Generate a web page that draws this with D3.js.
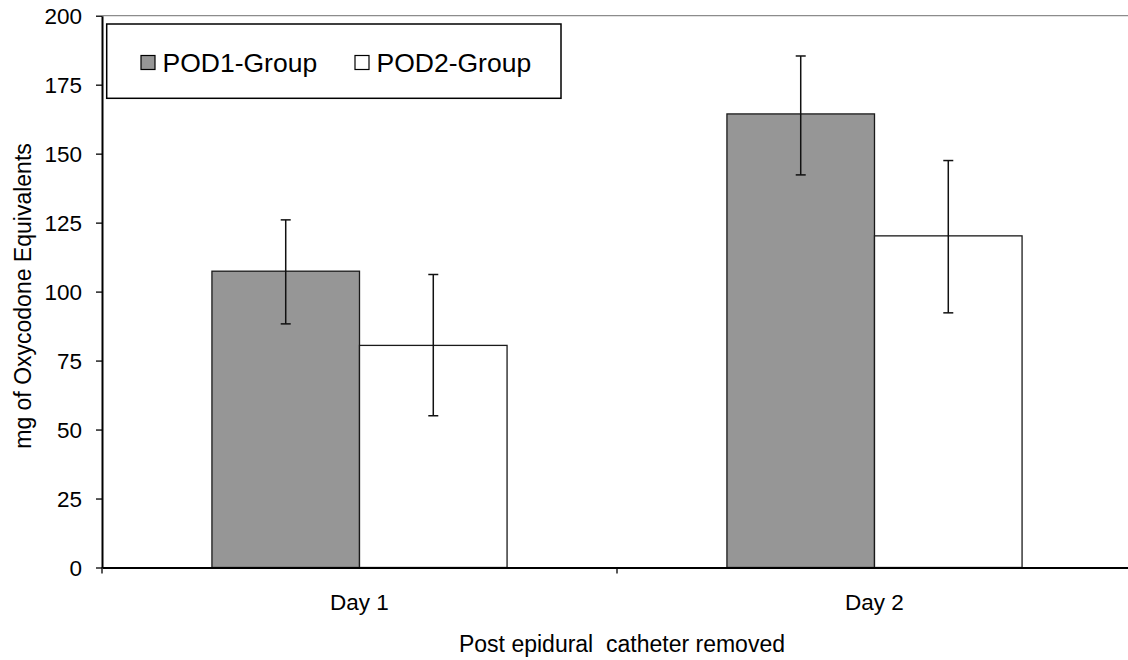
<!DOCTYPE html>
<html>
<head>
<meta charset="utf-8">
<script src="https://cdn.jsdelivr.net/npm/d3@7"></script>
<style>
  body { margin: 0; background: #fff; }
  svg text { font-family: "Liberation Sans", Arial, sans-serif; fill: #000; }
</style>
</head>
<body>
<svg width="1128" height="660"></svg>
<script>
var days = ["Day 1", "Day 2"];
var groups = ["POD1-Group", "POD2-Group"];
var groupFill = ["#969696", "#ffffff"];
var pod1Mean = [107.4, 164.4];
var pod1Low = [88.3, 142.3];
var pod1High = [126.0, 185.4];
var pod2Mean = [80.5, 120.2];
var pod2Low = [55.0, 92.3];
var pod2High = [106.2, 147.5];
var yTicks = [0, 25, 50, 75, 100, 125, 150, 175, 200];

var svg = d3.select("svg"),
    plotLeft = 102, plotRight = 1132, plotTop = 15.7, plotBottom = 567.5;

var rows = [];
days.forEach(function (d, i) {
    rows.push({ day: d, group: groups[0], mean: pod1Mean[i], low: pod1Low[i], high: pod1High[i] });
    rows.push({ day: d, group: groups[1], mean: pod2Mean[i], low: pod2Low[i], high: pod2High[i] });
});

var x0 = d3.scaleBand().domain(days).range([plotLeft, plotRight]);
var x1 = d3.scaleBand().domain(groups).range([0, x0.bandwidth()]).paddingOuter(0.745);
var y = d3.scaleLinear().domain([0, 200]).range([plotBottom, plotTop]);
var color = d3.scaleOrdinal().domain(groups).range(groupFill);

// top border of plot area
svg.append("line")
    .attr("x1", plotLeft).attr("x2", 1128)
    .attr("y1", y(200)).attr("y2", y(200))
    .attr("stroke", "#8c8c8c").attr("stroke-width", 1.2);

// bars
svg.append("g").selectAll("rect")
    .data(rows)
  .enter().append("rect")
    .attr("x", function (d) { return x0(d.day) + x1(d.group); })
    .attr("y", function (d) { return y(d.mean); })
    .attr("width", x1.bandwidth())
    .attr("height", function (d) { return y(0) - y(d.mean); })
    .attr("fill", function (d) { return color(d.group); })
    .attr("stroke", "#1a1a1a")
    .attr("stroke-width", 1.3);

// error bars
var err = svg.append("g").selectAll("g")
    .data(rows)
  .enter().append("g")
    .attr("stroke", "#111").attr("stroke-width", 1.5);

function cx(d) { return x0(d.day) + x1(d.group) + x1.bandwidth() / 2; }

err.append("line")
    .attr("x1", cx).attr("x2", cx)
    .attr("y1", function (d) { return y(d.low); })
    .attr("y2", function (d) { return y(d.high); });
err.append("line")
    .attr("x1", function (d) { return cx(d) - 5; })
    .attr("x2", function (d) { return cx(d) + 5; })
    .attr("y1", function (d) { return y(d.high); })
    .attr("y2", function (d) { return y(d.high); });
err.append("line")
    .attr("x1", function (d) { return cx(d) - 5; })
    .attr("x2", function (d) { return cx(d) + 5; })
    .attr("y1", function (d) { return y(d.low); })
    .attr("y2", function (d) { return y(d.low); });

// y axis
var yAxis = svg.append("g")
    .attr("transform", "translate(" + plotLeft + ",0)")
    .call(d3.axisLeft(y).tickValues(yTicks).tickSize(6).tickPadding(14).tickSizeOuter(0));
yAxis.select(".domain").attr("stroke", "#000").attr("stroke-width", 2);
yAxis.selectAll(".tick line").attr("stroke", "#000").attr("stroke-width", 1.3);
yAxis.selectAll(".tick text").style("font-size", "22.5px").attr("dy", "0.36em");

// x axis
var xAxis = svg.append("g")
    .attr("transform", "translate(0," + plotBottom + ")")
    .call(d3.axisBottom(x0).tickSize(0).tickPadding(27).tickSizeOuter(0));
xAxis.select(".domain").attr("stroke", "#000").attr("stroke-width", 2);
xAxis.selectAll(".tick text").style("font-size", "22.5px").attr("dy", "0.71em");

var bounds = days.map(function (d) { return x0(d); }).concat([x0(days[days.length - 1]) + x0.bandwidth()]);
xAxis.selectAll(".bound")
    .data(bounds)
  .enter().append("line")
    .attr("class", "bound")
    .attr("x1", function (d) { return d; }).attr("x2", function (d) { return d; })
    .attr("y1", 0).attr("y2", 6)
    .attr("stroke", "#000").attr("stroke-width", 1.3);

// axis titles
svg.append("text")
    .attr("transform", "translate(31,296)rotate(-90)")
    .attr("text-anchor", "middle")
    .style("font-size", "23px")
    .text("mg of Oxycodone Equivalents");

svg.append("text")
    .attr("x", 622).attr("y", 651.5)
    .attr("text-anchor", "middle")
    .style("font-size", "23px")
    .style("white-space", "pre")
    .text("Post epidural  catheter removed");

// legend
var legend = svg.append("g");
legend.append("rect")
    .attr("x", 106.7).attr("y", 24)
    .attr("width", 454.3).attr("height", 74.3)
    .attr("fill", "#fff").attr("stroke", "#000").attr("stroke-width", 1.5);

var legendX = [141, 355];
var item = legend.selectAll(".item")
    .data(groups)
  .enter().append("g")
    .attr("class", "item")
    .attr("transform", function (d, i) { return "translate(" + legendX[i] + ",55.5)"; });
item.append("rect")
    .attr("width", 14).attr("height", 14)
    .attr("fill", function (d) { return color(d); })
    .attr("stroke", "#000").attr("stroke-width", 1.2);
item.append("text")
    .attr("x", 21.5).attr("y", 16.2)
    .style("font-size", "26.5px")
    .text(function (d) { return d; });
</script>
</body>
</html>
